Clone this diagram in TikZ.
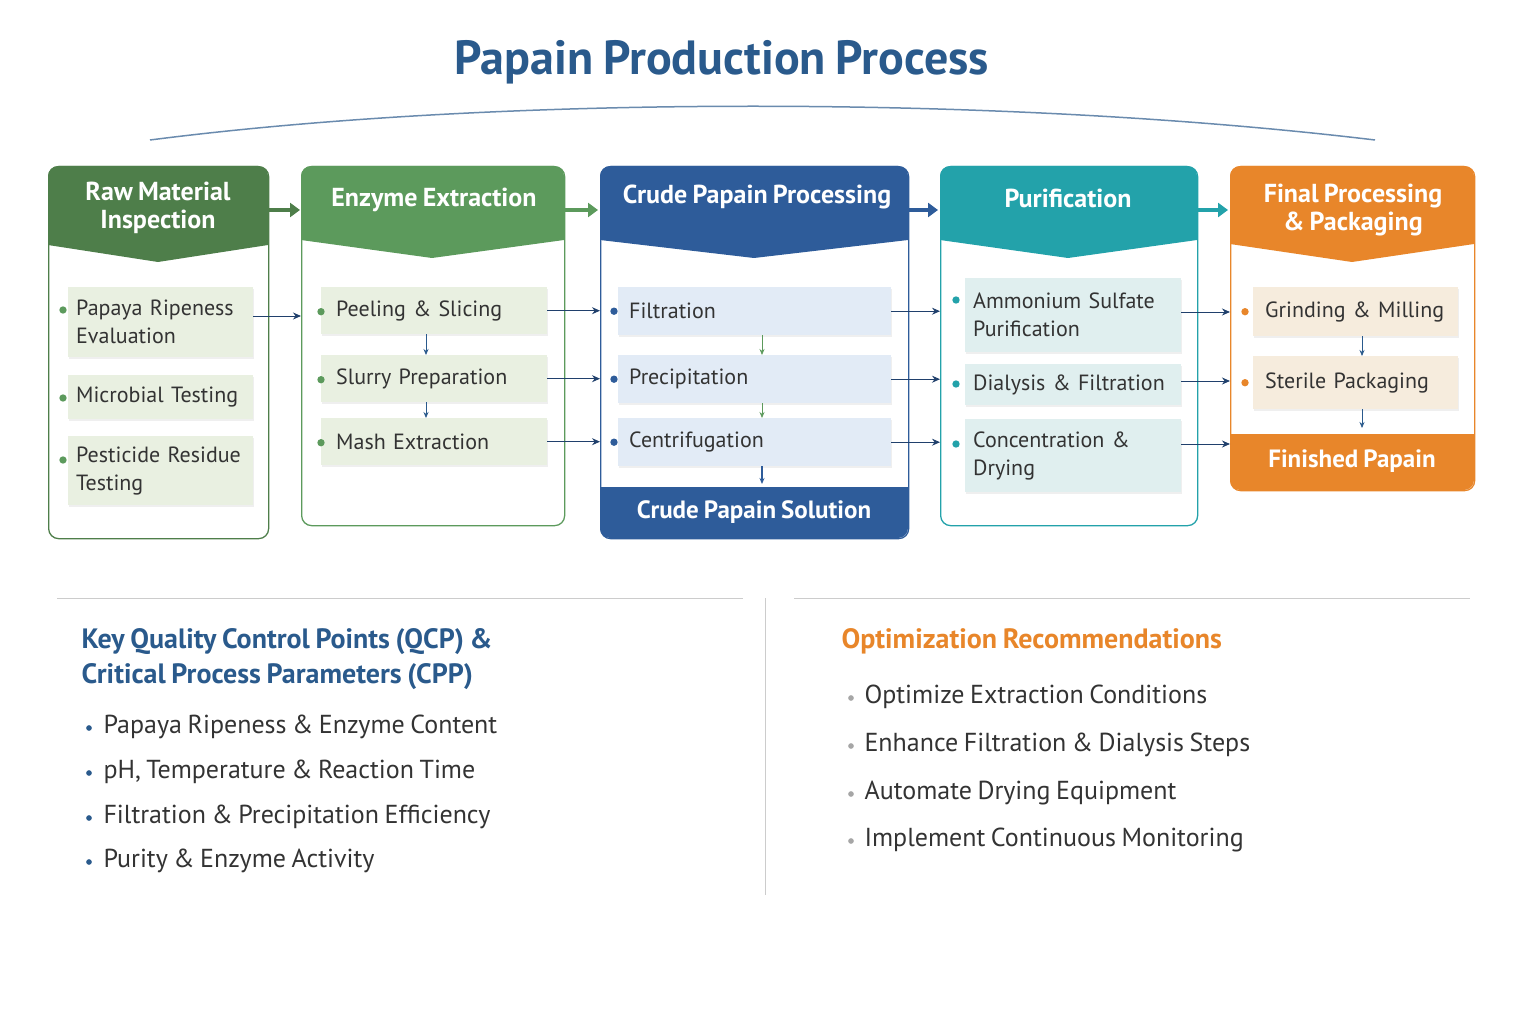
\documentclass[tikz,border=0pt]{standalone}
\usepackage{fontspec}
\setmainfont{PT Sans}[WordSpace=0.8]
\usetikzlibrary{arrows.meta,shadows,calc}
\definecolor{g1}{HTML}{4E7E4A}\definecolor{g2}{HTML}{5C9A5C}
\definecolor{bl}{HTML}{2E5C9A}\definecolor{te}{HTML}{23A2AA}
\definecolor{or}{HTML}{E8862A}\definecolor{tt}{HTML}{2A5A8C}
\definecolor{ig}{HTML}{E9F0E1}\definecolor{ib}{HTML}{E2EBF6}
\definecolor{it}{HTML}{E0EFEF}\definecolor{io}{HTML}{F6ECDD}
\definecolor{tx}{HTML}{333333}
\hyphenpenalty=10000
\begin{document}
\begin{tikzpicture}[x=1pt,y=-1pt,
 col/.style={draw=#1,line width=1.3pt,rounded corners=10,fill=white,anchor=north west,inner sep=0pt},
 hd/.style={text=white,font=\fontsize{26}{28}\selectfont\bfseries,align=center},
 it/.style={fill=#1,anchor=north west,inner ysep=0pt,inner xsep=8pt,text=tx,align=left,
   font=\fontsize{22}{28}\selectfont,drop shadow={opacity=0.12,shadow xshift=1pt,shadow yshift=-2pt}},
 dot/.style={circle,fill=#1,inner sep=2.6pt},
 arr/.style={-{Stealth[length=8pt,width=7pt]},draw=#1,line width=1pt},
 big/.style={-{Triangle[length=10pt,width=14pt]},draw=#1,line width=4pt},
 sm/.style={-{Stealth[length=6pt,width=5pt]},draw=#1,line width=0.8pt}]
\useasboundingbox (0,0) rectangle (1536,1024);
\node[text=tt,font=\fontsize{48}{52}\selectfont\bfseries] (title) at (722,62) {Papain Production Process};
\draw[tt!70,line width=1.5pt] (150,140) .. controls (500,95) and (1000,95) .. (1375,140);

% columns
\node[col=g1,minimum width=220pt,minimum height=372pt] (c1) at (48,166) {};
\node[col=g2,minimum width=263pt,minimum height=359pt] (c2) at (301,166) {};
\node[col=bl,minimum width=308pt,minimum height=372pt] (c3) at (600,166) {};
\node[col=te,minimum width=257pt,minimum height=359pt] (c4) at (940,166) {};
\node[col=or,minimum width=244pt,minimum height=324pt] (c5) at (1230,166) {};
% headers
\fill[g1] (48,245) [rounded corners=10]-- (48,166) -- (268,166) [sharp corners]-- (268,245) -- (158,262) -- cycle;
\fill[g2] (301,240) [rounded corners=10]-- (301,166) -- (564,166) [sharp corners]-- (564,240) -- (432,258) -- cycle;
\fill[bl] (600,240) [rounded corners=10]-- (600,166) -- (908,166) [sharp corners]-- (908,240) -- (754,258) -- cycle;
\fill[te] (940,240) [rounded corners=10]-- (940,166) -- (1197,166) [sharp corners]-- (1197,240) -- (1068,258) -- cycle;
\fill[or] (1230,244) [rounded corners=10]-- (1230,166) -- (1474,166) [sharp corners]-- (1474,244) -- (1352,262) -- cycle;
\node[hd] (h1) at (158,208) {Raw Material\\Inspection};
\node[hd] (h2) at (434,200) {Enzyme Extraction};
\node[hd] (h3) at (757,197) {Crude Papain Processing};
\node[hd] (h4) at (1068,198) {Purification};
\node[hd] (h5) at (1353,210) {Final Processing\\\& Packaging};
% bottom bands
\fill[bl] (600,487) -- (908,487) [rounded corners=10]-- (908,538) -- (600,538) [sharp corners]-- cycle;
\node[hd,font=\fontsize{25}{27}\selectfont\bfseries] (b3) at (754,512) {Crude Papain Solution};
\fill[or] (1230,434) -- (1474,434) [rounded corners=10]-- (1474,490) -- (1230,490) [sharp corners]-- cycle;
\node[hd,font=\fontsize{25}{27}\selectfont\bfseries] (b5) at (1352,461) {Finished Papain};

% items col1
\node[it=ig,minimum height=70pt,text width=169pt] (a1) at (68,287) {Papaya Ripeness\\Evaluation};
\node[it=ig,minimum height=44pt,text width=169pt] (a2) at (68,375) {Microbial Testing};
\node[it=ig,minimum height=69pt,text width=169pt] (a3) at (68,436) {Pesticide Residue\\Testing};
\node[dot=g2] at (63,310) {};
\node[dot=g2] at (63,398) {};
\node[dot=g2] at (63,460) {};
% col2
\foreach \n/\y/\t in {e1/287/Peeling \& Slicing,e2/355/Slurry Preparation,e3/418/Mash Extraction}
 {\node[it=ig,minimum height=47pt,inner xsep=15pt,text width=196pt] (\n) at (321,\y) {\t};
  \node[dot=g2] at ($(\n.west)+(0,1)$) {};}
% col3
\foreach \n/\y/\t in {f1/287/Filtration,f2/355/Precipitation,f3/418/Centrifugation}
 {\node[it=ib,minimum height=48pt,inner xsep=11pt,text width=251pt] (\n) at (618,\y) {\t};
  \node[dot=bl] at ($(\n.west)+(-4,0)$) {};}
% col4
\node[it=it,minimum height=74pt,text width=200pt] (p1) at (965,278) {Ammonium Sulfate\\Purification};
\node[it=it,minimum height=41pt,text width=200pt] (p2) at (965,364) {Dialysis \& Filtration};
\node[it=it,minimum height=73pt,text width=200pt] (p3) at (965,419) {Concentration \&\\Drying};
\node[dot=te] at (956,300) {};
\node[dot=te] at (956,384) {};
\node[dot=te] at (956,444) {};
% col5
\node[it=io,minimum height=49pt,inner xsep=12pt,text width=181pt] (o1) at (1253,287) {Grinding \& Milling};
\node[it=io,minimum height=53pt,inner xsep=12pt,text width=181pt] (o2) at (1253,356) {Sterile Packaging};
\foreach \n in {o1,o2} \node[dot=or] at ($(\n.west)+(-8,0)$) {};

% header arrows
\draw[big=g1] (268,210) -- (300,210);
\draw[big=g2] (564,210) -- (598,210);
\draw[big=bl] (908,210) -- (938,210);
\draw[big=te] (1197,210) -- (1228,210);
% item arrows
\draw[arr=bl!70!black] (a1.east |- 0,316) -- (c2.west |- 0,316);
\foreach \a/\b in {e1/c3,e2/c3,e3/c3,f1/c4,f2/c4,f3/c4}
  \draw[arr=bl!70!black] (\a.east) -- (\a.east -| \b.west);
\draw[arr=bl!70!black] (p1.east |- 0,312) -- (c5.west |- 0,312);
\draw[arr=bl!70!black] (p2.east |- 0,381) -- (c5.west |- 0,381);
\draw[arr=bl!70!black] (p3.east |- 0,444) -- (c5.west |- 0,444);
% vertical arrows
\draw[sm=tt] (e1.south -| 426,0) -- (e2.north -| 426,0);
\draw[sm=tt] (e2.south -| 426,0) -- (e3.north -| 426,0);
\draw[sm=g2] (f1.south -| 762,0) -- (f2.north -| 762,0);
\draw[sm=g2] (f2.south -| 762,0) -- (f3.north -| 762,0);
\draw[sm=bl,line width=1.3pt] (f3.south -| 762,0) -- (762,484);
\draw[sm=tt] (o1.south -| 1362,0) -- (o2.north -| 1362,0);
\draw[sm=tt] (o2.south -| 1362,0) -- (1362,428);

% bottom section
\draw[gray!40,line width=1pt] (57,598) -- (743,598) (794,598) -- (1470,598) (765,598) -- (765,895);
\node[anchor=west,text=tt,font=\fontsize{28}{35}\selectfont\bfseries,align=left] (q) at (78,659) {Key Quality Control Points (QCP) \&\\Critical Process Parameters (CPP)};
\foreach \y/\t [count=\i] in {727/Papaya Ripeness \& Enzyme Content,772/{pH, Temperature \& Reaction Time},817/Filtration \& Precipitation Efficiency,861/Purity \& Enzyme Activity}
 {\node[anchor=west,text=tx,font=\fontsize{26}{28}\selectfont] (ql\i) at (100,\y) {\t};
  \node[circle,fill=tt,inner sep=2pt] at (89,\y+1) {};}
\node[anchor=west,text=or,font=\fontsize{28}{32}\selectfont\bfseries] (r) at (838,641) {Optimization Recommendations};
\foreach \y/\t [count=\i] in {697/Optimize Extraction Conditions,745/Enhance Filtration \& Dialysis Steps,793/Automate Drying Equipment,840/Implement Continuous Monitoring}
 {\node[anchor=west,text=tx,font=\fontsize{26}{28}\selectfont] (rl\i) at (861,\y) {\t};
  \node[circle,fill=gray!70,inner sep=2pt] at (851,\y+1) {};}
\end{tikzpicture}
\end{document}
